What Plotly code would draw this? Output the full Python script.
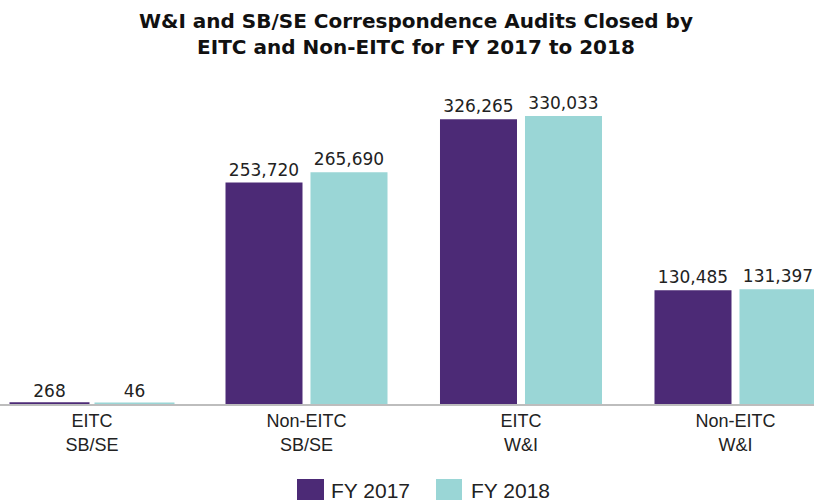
import plotly.graph_objects as go

categories = ["EITC<br>SB/SE", "Non-EITC<br>SB/SE", "EITC<br>W&I", "Non-EITC<br>W&I"]
fy2017 = [268, 253720, 326265, 130485]
fy2018 = [46, 265690, 330033, 131397]
series_names = ["FY 2017", "FY 2018"]
colors = ["#4C2A76", "#9AD6D6"]

W, H = 814, 503
ml, mr, mt, mb = 0, 0, 100, 99
plot_h = H - mt - mb

def px_to_paper(px, py):
    return px / (W - ml - mr), (H - mb - py) / plot_h

def label_text(vals):
    return [f"{v:,}" for v in vals]

def line_widths(vals):
    # give tiny bars a visible thickness, like the original
    return [3 if v < 1000 else 0 for v in vals]

fig = go.Figure()
for name, vals, col in zip(series_names, [fy2017, fy2018], colors):
    fig.add_trace(go.Bar(
        x=categories, y=vals, name=name,
        marker=dict(color=col, line=dict(color=col, width=line_widths(vals))),
        text=label_text(vals), textposition="outside",
        textfont=dict(family="DejaVu Sans", size=17, color="#222222"),
        cliponaxis=False, showlegend=False,
    ))

# legend drawn manually (large square swatches)
legend_items = [(297, 324, 329), (436, 462, 469)]
shapes, annos = [], []
for (x0, x1, tx), name, col in zip(legend_items, series_names, colors):
    px0, py0 = px_to_paper(x0, 479)
    px1, py1 = px_to_paper(x1, 500)
    shapes.append(dict(type="rect", xref="paper", yref="paper", x0=px0, x1=px1,
                       y0=py1, y1=py0, fillcolor=col, line=dict(width=0)))
    tx_p, ty_p = px_to_paper(tx, 490)
    annos.append(dict(text=name, xref="paper", yref="paper", x=tx_p, y=ty_p,
                      xanchor="left", yanchor="middle", showarrow=False,
                      font=dict(family="Liberation Sans", size=21, color="#222222")))

fig.update_layout(
    width=W, height=H,
    margin=dict(l=ml, r=mr, t=mt, b=mb),
    paper_bgcolor="white", plot_bgcolor="white",
    title=dict(text="W&I and SB/SE Correspondence Audits Closed by<br>EITC and Non-EITC for FY 2017 to 2018",
               x=0.511, xanchor="center", y=0.945, yanchor="top", yref="container",
               font=dict(family="DejaVu Sans", size=20, color="#111111", weight="bold")),
    barmode="group", bargap=0.2075, bargroupgap=0.094,
    xaxis=dict(range=[-0.4289, 3.366], showline=True, linecolor="#BDBDBD", linewidth=1.5,
               ticks="", showgrid=False, zeroline=False,
               tickfont=dict(family="Liberation Sans", size=18, color="#222222")),
    yaxis=dict(range=[0, 348400], visible=False, showgrid=False, zeroline=False),
    shapes=shapes, annotations=annos,
)

fig.write_html("out.html", config={"displayModeBar": False},
               post_script="document.body.style.margin='0px';document.body.style.overflow='hidden';")
